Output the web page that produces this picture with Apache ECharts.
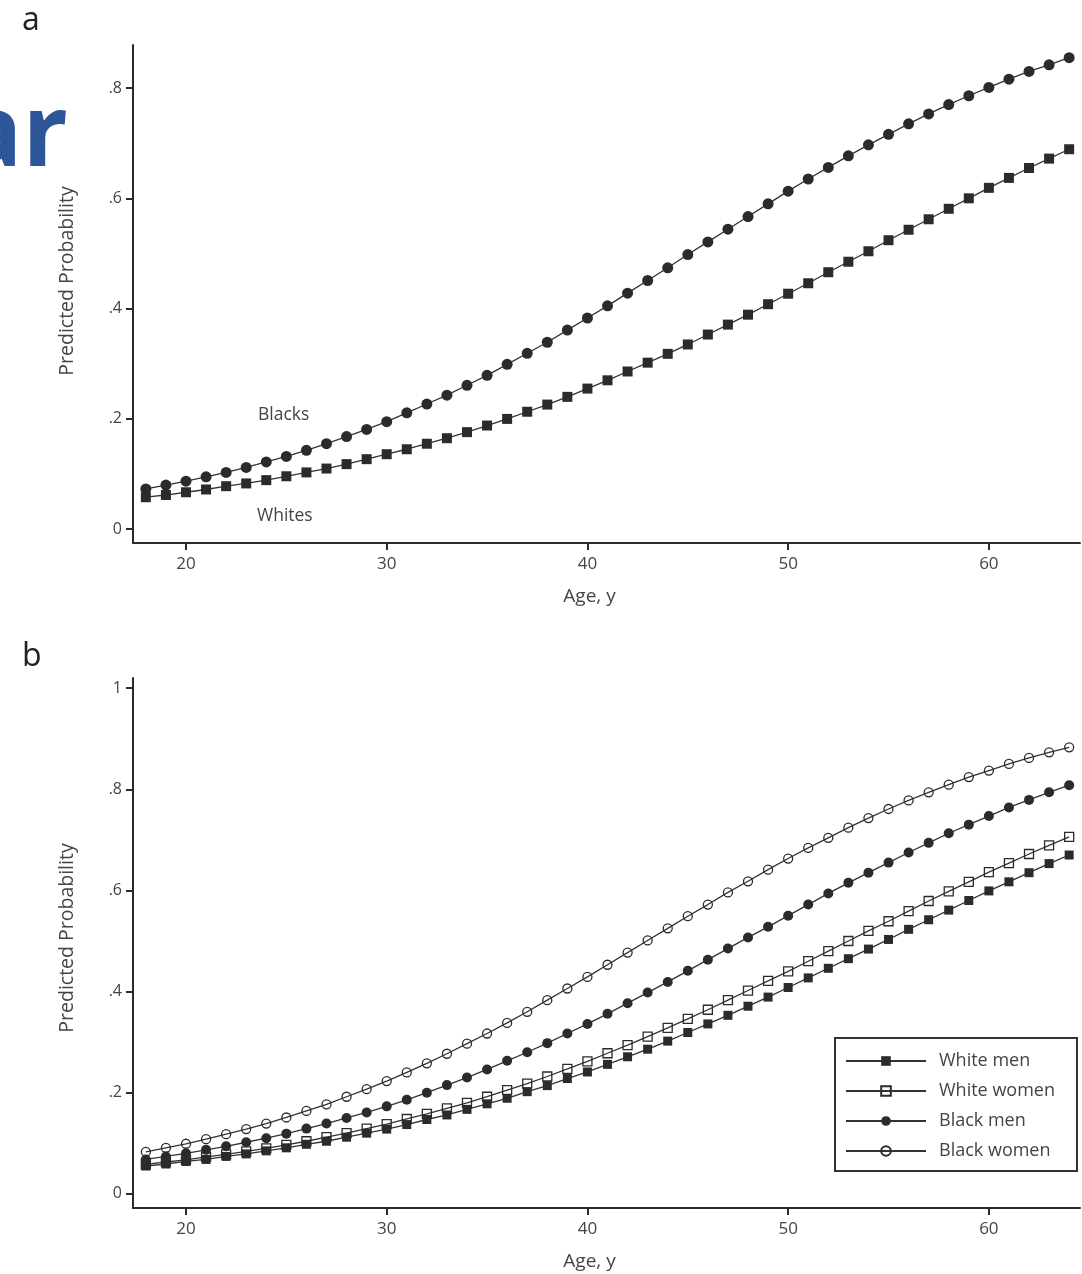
<!DOCTYPE html>
<html>
<head>
<meta charset="utf-8">
<script src="https://cdn.jsdelivr.net/npm/echarts@6/dist/echarts.min.js"></script>
<style>html,body{margin:0;padding:0;background:#fff;}#c{width:1082px;height:1274px;}</style>
</head>
<body>
<div id="c"></div>
<script>
// Ages 18..64
var ages = [];
for (var a = 18; a <= 64; a++) ages.push(a);

var xTicks = [20, 30, 40, 50, 60];
var yTicksA = [0, 0.2, 0.4, 0.6, 0.8];
var yTicksB = [0, 0.2, 0.4, 0.6, 0.8, 1];

// Panel a
var blacks = [0.073,0.080,0.087,0.095,0.103,0.112,0.122,0.132,0.143,0.155,0.168,0.181,0.195,0.211,0.227,0.243,0.261,0.279,0.299,0.319,0.339,0.361,0.383,0.405,0.428,0.451,0.474,0.498,0.521,0.544,0.567,0.590,0.613,0.635,0.656,0.677,0.697,0.716,0.735,0.753,0.770,0.786,0.801,0.816,0.830,0.842,0.855];
var whites = [0.058,0.062,0.067,0.072,0.078,0.083,0.089,0.096,0.103,0.110,0.118,0.127,0.136,0.145,0.155,0.165,0.176,0.188,0.200,0.213,0.226,0.240,0.255,0.270,0.286,0.302,0.318,0.335,0.353,0.371,0.389,0.408,0.427,0.446,0.466,0.485,0.504,0.524,0.543,0.562,0.581,0.600,0.619,0.637,0.655,0.672,0.689];

// Panel b
var whiteMen = [0.055,0.059,0.064,0.068,0.074,0.079,0.085,0.091,0.098,0.104,0.112,0.120,0.128,0.137,0.147,0.156,0.167,0.178,0.189,0.202,0.214,0.228,0.241,0.256,0.271,0.286,0.302,0.319,0.336,0.353,0.371,0.389,0.408,0.427,0.446,0.465,0.484,0.503,0.523,0.542,0.561,0.580,0.599,0.617,0.635,0.653,0.670];
var whiteWomen = [0.058,0.063,0.067,0.073,0.078,0.084,0.090,0.097,0.104,0.112,0.120,0.129,0.138,0.148,0.158,0.169,0.180,0.192,0.205,0.218,0.232,0.247,0.262,0.278,0.294,0.311,0.328,0.346,0.364,0.383,0.402,0.421,0.440,0.460,0.480,0.500,0.520,0.539,0.559,0.579,0.598,0.617,0.636,0.654,0.672,0.689,0.706];
var blackMen = [0.068,0.074,0.080,0.087,0.094,0.102,0.110,0.119,0.129,0.139,0.150,0.161,0.173,0.186,0.200,0.215,0.230,0.246,0.263,0.280,0.298,0.317,0.336,0.356,0.377,0.398,0.419,0.441,0.463,0.485,0.507,0.528,0.550,0.572,0.594,0.615,0.635,0.655,0.675,0.694,0.713,0.730,0.747,0.764,0.779,0.794,0.808];
var blackWomen = [0.083,0.091,0.099,0.108,0.118,0.128,0.139,0.151,0.164,0.177,0.192,0.207,0.223,0.240,0.258,0.277,0.297,0.317,0.338,0.360,0.383,0.406,0.429,0.453,0.477,0.501,0.525,0.549,0.572,0.596,0.618,0.641,0.663,0.684,0.704,0.724,0.743,0.761,0.778,0.794,0.809,0.824,0.837,0.850,0.862,0.873,0.883];

function pairs(vals) { return ages.map(function (x, i) { return [x, vals[i]]; }); }

var FONT = '"Open Sans", "Noto Sans", sans-serif';
var INK = '#2b2b2b';
var TXT = '#444';

function probFmt(v) {
  if (v === 0) return '0';
  if (v === 1) return '1';
  return String(v).replace(/^0\./, '.');
}

function xAxisFor(gi) {
  return {
    type: 'value', gridIndex: gi, min: 17.36, max: 64.54,
    name: 'Age, y', nameLocation: 'middle', nameGap: 44,
    nameTextStyle: { fontFamily: FONT, fontSize: 19, color: TXT, padding: [0, 34, 0, 0] },
    axisLine: { show: true, onZero: false, lineStyle: { color: INK, width: 2 } },
    axisTick: { show: true, length: 7, lineStyle: { color: INK, width: 2 }, customValues: xTicks },
    axisLabel: { margin: 13, fontFamily: FONT, fontSize: 17, color: TXT, customValues: xTicks },
    splitLine: { show: false }
  };
}
function yAxisFor(gi, mn, mx, ticks, shift) {
  return {
    type: 'value', gridIndex: gi, min: mn, max: mx,
    name: 'Predicted Probability', nameLocation: 'middle', nameGap: 56, nameRotate: 90,
    nameTextStyle: { fontFamily: FONT, fontSize: 19.5, color: TXT, padding: [0, 0, 0, shift] },
    axisLine: { show: true, onZero: false, lineStyle: { color: INK, width: 2 } },
    axisTick: { show: true, length: 7, lineStyle: { color: INK, width: 2 }, customValues: ticks },
    axisLabel: { margin: 11, fontFamily: FONT, fontSize: 16, color: TXT, customValues: ticks, formatter: probFmt },
    splitLine: { show: false }
  };
}

function lineSeries(name, vals, gi, symbol, size, hollow) {
  return {
    name: name, type: 'line', xAxisIndex: gi, yAxisIndex: gi,
    data: pairs(vals), symbol: symbol, symbolSize: size, showSymbol: true,
    lineStyle: { color: '#333', width: 1.3 },
    itemStyle: hollow ? { color: 'rgba(255,255,255,0)', borderColor: INK, borderWidth: 1.3 }
                      : { color: INK, borderWidth: 0 },
    emphasis: { disabled: true }, animation: false, z: 2
  };
}

var chart = echarts.init(document.getElementById('c'), null, { renderer: 'canvas' });
chart.setOption({
  backgroundColor: '#fff',
  animation: false,
  grid: [
    { left: 133, right: 2, top: 45, height: 498 },
    { left: 133, right: 2, top: 678, height: 530 }
  ],
  xAxis: [xAxisFor(0), xAxisFor(1)],
  yAxis: [yAxisFor(0, -0.025, 0.878, yTicksA, 26), yAxisFor(1, -0.028, 1.02, yTicksB, 10)],
  legend: {
    data: ['White men', 'White women', 'Black men', 'Black women'],
    orient: 'vertical', left: 835, top: 1038,
    padding: [14, 22, 11, 10],
    itemWidth: 80, itemHeight: 12, itemGap: 12,
    borderColor: '#333', borderWidth: 2, backgroundColor: '#fff',
    textStyle: { fontFamily: FONT, fontSize: 18, color: TXT, lineHeight: 16, padding: [0, 0, 0, 8] },
    selectedMode: false
  },
  graphic: [
    { type: 'text', left: -38, top: 88, style: { text: 'ar', font: 'bold 100px "Open Sans", sans-serif', fill: '#2c5697' } },
    { type: 'text', left: 22, top: 5, style: { text: 'a', font: '32px "Open Sans", sans-serif', fill: '#222' } },
    { type: 'text', left: 22, top: 641, style: { text: 'b', font: '32px "Open Sans", sans-serif', fill: '#222' } },
    { type: 'text', left: 258, top: 406, style: { text: 'Blacks', font: '17.5px "Open Sans", sans-serif', fill: TXT } },
    { type: 'text', left: 257, top: 507, style: { text: 'Whites', font: '17.5px "Open Sans", sans-serif', fill: TXT } }
  ],
  series: [
    lineSeries('Whites', whites, 0, 'rect', 10, false),
    lineSeries('Blacks', blacks, 0, 'circle', 11, false),
    lineSeries('White men', whiteMen, 1, 'rect', 9, false),
    lineSeries('White women', whiteWomen, 1, 'rect', 9, true),
    lineSeries('Black men', blackMen, 1, 'circle', 10, false),
    lineSeries('Black women', blackWomen, 1, 'circle', 9, true)
  ]
});
</script>
</body>
</html>
